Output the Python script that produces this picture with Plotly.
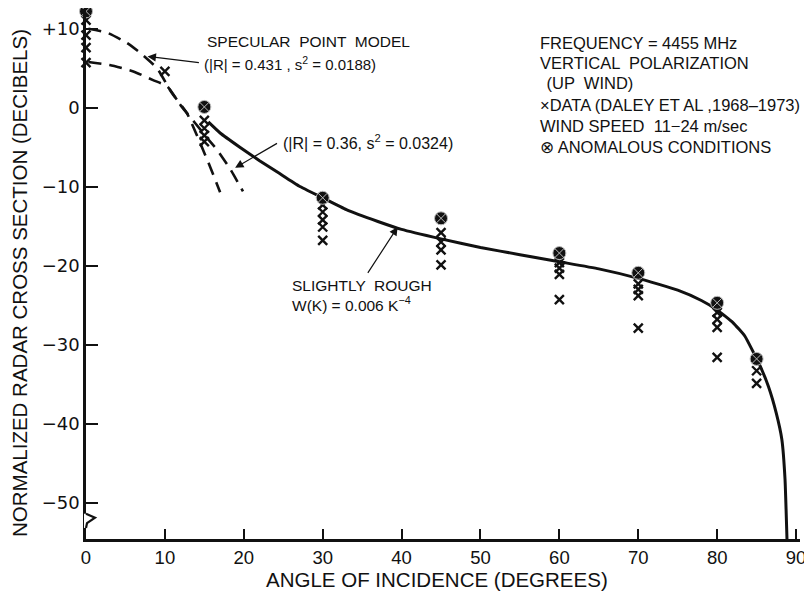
import plotly.graph_objects as go

# ---------------- data ----------------
data_angle = [0, 0, 0, 0, 10, 15, 15, 15, 15, 30, 30, 30, 30, 30,
              45, 45, 45, 45, 60, 60, 60, 60, 70, 70, 70, 70,
              80, 80, 80, 80, 85, 85]
data_sigma = [11.1, 9.2, 7.6, 5.7, 4.6, -1.6, -2.6, -3.5, -4.3,
              -12.3, -13.2, -14.2, -15.1, -16.8,
              -15.8, -17.0, -18.0, -19.9,
              -19.6, -20.3, -21.1, -24.3,
              -22.3, -23.0, -23.8, -27.9,
              -25.9, -26.8, -27.8, -31.6,
              -33.3, -34.9]

anom_angle = [0, 15, 30, 45, 60, 70, 80, 85]
anom_sigma = [12.2, 0.1, -11.4, -14.0, -18.4, -20.9, -24.7, -31.8]

rough_angle = [15.5, 17, 19.5, 22, 24.5, 27, 30, 33, 37, 40, 45, 50, 55,
               60, 65, 70, 75, 78, 80, 82, 83.5, 85.4, 86.5, 87.5, 88.2,
               88.6, 88.85]
rough_sigma = [-1.8, -3.2, -5.0, -6.7, -8.3, -9.9, -11.4, -12.9, -14.4,
               -15.4, -16.6, -17.7, -18.6, -19.5, -20.4, -21.6, -23.1,
               -24.4, -25.6, -27.2, -28.9, -32.6, -35.3, -38.7, -42.0,
               -47.0, -54.6]

spec1_angle = [0.3, 2.7, 5.2, 6.8, 9.0, 10.8, 12.8, 14.4, 15.7, 17.0]
spec1_sigma = [10.0, 9.5, 8.2, 7.0, 5.0, 2.0, -0.7, -4.3, -7.4, -10.7]

spec2_angle = [0.3, 3.0, 6.0, 8.5, 10.3, 12.0, 13.8, 15.5, 16.6, 18.3, 19.9]
spec2_sigma = [5.8, 5.4, 4.6, 3.5, 2.7, 0.3, -1.9, -4.0, -5.3, -7.8, -10.6]

x_ticks = [0, 10, 20, 30, 40, 50, 60, 70, 80, 90]
y_ticks = [10, 0, -10, -20, -30, -40, -50]
y_ticktext = ["+10", "0", "\u221210", "\u221220", "\u221230", "\u221240", "\u221250"]

FONT = "Liberation Sans"
TICKFONT = "DejaVu Sans"
BLACK = "#111111"

# the page body adds an 8 px offset, so the figure is 8 px smaller
OFF = 8
W, H = 812 - OFF, 593 - OFF
L, R, T, B = 86 - OFF, 12, 9 - OFF, 54
pw, ph = W - L - R, H - T - B

fig = go.Figure()

dash = "13px,8px"
fig.add_trace(go.Scatter(x=spec1_angle, y=spec1_sigma, mode="lines",
                         line=dict(color=BLACK, width=2.6, dash=dash, shape="spline", smoothing=0.5),
                         cliponaxis=False, showlegend=False))
fig.add_trace(go.Scatter(x=spec2_angle, y=spec2_sigma, mode="lines",
                         line=dict(color=BLACK, width=2.6, dash=dash, shape="spline", smoothing=0.5),
                         cliponaxis=False, showlegend=False))
fig.add_trace(go.Scatter(x=rough_angle, y=rough_sigma, mode="lines",
                         line=dict(color=BLACK, width=3, shape="spline", smoothing=0.4),
                         cliponaxis=False, showlegend=False))
fig.add_trace(go.Scatter(x=data_angle, y=data_sigma, mode="markers",
                         marker=dict(symbol="x-thin-open", size=9, color=BLACK,
                                     line=dict(color=BLACK, width=2.4)),
                         cliponaxis=False, showlegend=False))
fig.add_trace(go.Scatter(x=anom_angle, y=anom_sigma, mode="markers",
                         marker=dict(symbol="circle-x", size=13, color=BLACK,
                                     line=dict(color="#bbbbbb", width=1)),
                         cliponaxis=False, showlegend=False))

ann = []
def txt(x, y, s, size=15, xanchor="left"):
    ann.append(dict(x=x, y=y, xref="x", yref="y", text=s, showarrow=False,
                    xanchor=xanchor, yanchor="middle",
                    font=dict(family=FONT, size=size, color=BLACK)))

def arrow(hx, hy, tx, ty):
    ann.append(dict(x=hx, y=hy, ax=tx, ay=ty, xref="x", yref="y",
                    axref="x", ayref="y", text="", showarrow=True,
                    arrowhead=2, arrowsize=1.4, arrowwidth=1.2,
                    arrowcolor=BLACK))

txt(15.1, 8.35, "SPECULAR  POINT  MODEL", size=15.5)
txt(14.7, 5.6, "(|R| = 0.431 , s<sup>2</sup> = 0.0188)")
txt(24.7, -4.3, "(|R| = 0.36, s<sup>2</sup> = 0.0324)", size=16)
txt(25.9, -22.5, "SLIGHTLY  ROUGH", size=15.5)
txt(25.9, -24.8, "W(K) = 0.006 K<sup>\u22124</sup>", size=15.5)
arrow(7.8, 6.5, 14.5, 5.7)
arrow(18.9, -7.6, 24.4, -4.4)
arrow(39.5, -15.1, 35.6, -21.1)

rx = 57.3
txt(rx, 8.25, "FREQUENCY = 4455 MHz", size=16.5)
txt(rx, 5.65, "VERTICAL  POLARIZATION", size=16.5)
txt(rx + 0.3, 3.1, " (UP  WIND)", size=16.5)
txt(rx, 0.35, "\u00d7DATA (DALEY ET AL ,1968\u20131973)", size=16.5)
txt(rx, -2.3, "WIND SPEED  11\u221224 m/sec", size=16.5)
txt(rx, -4.95, "\u2297 ANOMALOUS CONDITIONS", size=16.5)

# axis titles (pixel positions in the 812x593 window converted to paper coordinates)
def paper_x(px_):
    return (px_ - OFF - L) / pw
def paper_y(py_):
    return ((H + OFF - B) - py_) / ph

ann.append(dict(x=paper_x(437), y=paper_y(579), xref="paper", yref="paper",
                yanchor="middle", xanchor="center", showarrow=False,
                text="ANGLE OF INCIDENCE (DEGREES)",
                font=dict(family=FONT, size=20.5, color=BLACK)))
ann.append(dict(x=paper_x(19), y=paper_y(283), xref="paper", yref="paper",
                xanchor="center", yanchor="middle", showarrow=False,
                text="NORMALIZED RADAR CROSS SECTION (DECIBELS)",
                textangle=-90, font=dict(family=FONT, size=20.5, color=BLACK)))

# axis break (zigzag) on the y axis
px = 1.0 / pw
shapes = [
    dict(type="line", xref="paper", yref="y", x0=0, x1=0, y0=-51.4, y1=-53.2,
         line=dict(color="white", width=4), layer="above"),
    dict(type="path", xref="paper", yref="y",
         path=f"M 0,-51.4 L {9*px},-51.9 L {1*px},-52.6 L 0,-53.2",
         line=dict(color=BLACK, width=2.2), layer="above"),
]

fig.update_layout(
    width=W, height=H,
    margin=dict(l=L, r=R, t=T, b=B),
    paper_bgcolor="white", plot_bgcolor="white",
    annotations=ann, shapes=shapes,
    font=dict(family=FONT, color=BLACK),
    xaxis=dict(range=[0, 90.5], tickvals=x_ticks, ticktext=[str(v) for v in x_ticks],
               ticks="inside", ticklen=10, tickwidth=2, tickcolor=BLACK,
               showline=True, linewidth=2.5, linecolor=BLACK,
               showgrid=False, zeroline=False, automargin=False,
               tickfont=dict(family=FONT, size=18.5, color=BLACK)),
    yaxis=dict(range=[-54.6, 12.5], tickvals=y_ticks, ticktext=y_ticktext,
               ticks="inside", ticklen=12, tickwidth=2, tickcolor=BLACK,
               showline=True, linewidth=2.5, linecolor=BLACK,
               showgrid=False, zeroline=False, automargin=False,
               tickfont=dict(family=TICKFONT, size=18, color=BLACK)),
)

fig.write_html("out.html")
